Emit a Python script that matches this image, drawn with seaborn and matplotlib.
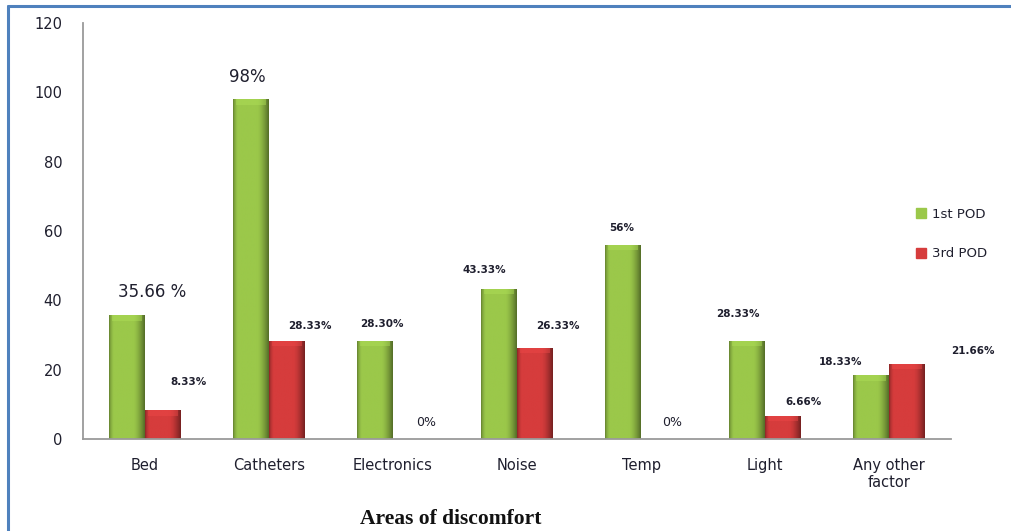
import matplotlib
matplotlib.use("Agg")
import matplotlib.pyplot as plt
from matplotlib.lines import Line2D
from matplotlib.colors import to_rgb
import numpy as np
import pandas as pd
import seaborn as sns

# Data
categories = ["Bed", "Catheters", "Electronics", "Noise", "Temp", "Light", "Any other\nfactor"]
pod1_values = [35.66, 98, 28.30, 43.33, 56, 28.33, 18.33]
pod3_values = [8.33, 28.33, 0, 26.33, 0, 6.66, 21.66]
pod1_labels = ["35.66 %", "98%", "28.30%", "43.33%", "56%", "28.33%", "18.33%"]
pod3_labels = ["8.33%", "28.33%", "0%", "26.33%", "0%", "6.66%", "21.66%"]
series_names = ["1st POD", "3rd POD"]
y_ticks = [0, 20, 40, 60, 80, 100, 120]

df = pd.DataFrame({
    "Area": categories * 2,
    "Value": pod1_values + pod3_values,
    "Series": [series_names[0]] * len(categories) + [series_names[1]] * len(categories),
})

GREEN = "#9BC84A"
RED = "#D63C3C"
TEXT = "#1f1f2e"
AXIS = "#9a9a9a"

sns.set_theme(style="white")
plt.rcParams["font.family"] = ["DejaVu Sans"]

fig = plt.figure(figsize=(10.11, 5.31), dpi=100)
ax = fig.add_axes([83 / 1011, (531 - 439) / 531, (951 - 83) / 1011, (439 - 23) / 531])

sns.barplot(data=df, x="Area", y="Value", hue="Series", order=categories,
            hue_order=series_names, palette=[GREEN, RED], width=0.58,
            saturation=1, edgecolor="none", linewidth=0, legend=False, ax=ax)

ax.set_ylim(0, 120)
ax.set_xlim(-0.5, len(categories) - 0.5)
ax.set_yticks(y_ticks)
ax.set_yticklabels([str(v) for v in y_ticks], fontsize=10.5, color=TEXT)
ax.set_xticks(range(len(categories)))
ax.set_xticklabels(categories, fontsize=10.5, color=TEXT, linespacing=1.1)
ax.set_xticks(np.arange(-0.5, len(categories)), minor=True)
ax.tick_params(axis="x", which="major", length=0, pad=14)
ax.tick_params(axis="x", which="minor", length=5, width=1.2, color=AXIS, direction="out")
ax.tick_params(axis="y", length=5, width=1.2, color=AXIS, direction="out", pad=10)
ax.set_xlabel("")
ax.set_ylabel("")
for side in ["top", "right"]:
    ax.spines[side].set_visible(False)
for side in ["left", "bottom"]:
    ax.spines[side].set_color(AXIS)
    ax.spines[side].set_linewidth(1.3)


def shade(base, n=64, right_dark=0.55, left_dark=0.65):
    """Horizontal cylinder-like shading for a bar."""
    rgb = np.array(to_rgb(base))
    t = np.linspace(0, 1, n)
    f = np.ones(n)
    left = t < 0.12
    f[left] = left_dark + (1 - left_dark) * (t[left] / 0.12) ** 0.6
    right = t > 0.68
    f[right] = 1 - (1 - right_dark) * ((t[right] - 0.68) / 0.32) ** 1.5
    img = np.clip(rgb[None, :] * f[:, None], 0, 1)
    return img[None, :, :]


for container, base in zip(ax.containers, [GREEN, RED]):
    for bar in container:
        h = bar.get_height()
        if h <= 0:
            continue
        x0 = bar.get_x()
        w = bar.get_width()
        im = ax.imshow(shade(base), extent=(x0, x0 + w, 0, h), aspect="auto",
                       interpolation="bilinear", zorder=bar.get_zorder() + 0.1)
        im.set_clip_path(bar)
        # soft bevel along the top edge
        cap = min(1.6, h)
        top = np.clip(np.array(to_rgb(base)) * 1.08 + 0.03, 0, 1)
        ax.fill_between([x0 + w * 0.08, x0 + w * 0.92], h - cap, h,
                        color=top, alpha=0.45, linewidth=0,
                        zorder=bar.get_zorder() + 0.2)
ax.set_xlim(-0.5, len(categories) - 0.5)
ax.set_ylim(0, 120)

# Value labels (offsets in pixels from each bar's top centre)
pod1_offsets = [(25, 23), (-4, 22), (7, 17), (-15, 19), (-1, 17), (-9, 27), (-30, 13)]
pod3_offsets = [(26, 28), (23, 15), (15, 16), (23, 22), (13, 16), (21, 14), (66, 13)]
pod1_sizes = [12, 12, 7.5, 7.5, 7.5, 7.5, 7.5]
pod3_sizes = [7.5, 7.5, 9, 7.5, 9, 7.5, 7.5]
pod1_weight = ["normal", "normal", "bold", "bold", "bold", "bold", "bold"]
pod3_weight = ["bold", "bold", "normal", "bold", "normal", "bold", "bold"]

for container, labels, offs, sizes, weights in [
        (ax.containers[0], pod1_labels, pod1_offsets, pod1_sizes, pod1_weight),
        (ax.containers[1], pod3_labels, pod3_offsets, pod3_sizes, pod3_weight)]:
    for bar, lab, (dx, dy), fs, fw in zip(container, labels, offs, sizes, weights):
        cx = bar.get_x() + bar.get_width() / 2
        ax.annotate(lab, xy=(cx, bar.get_height()), xytext=(dx, dy),
                    textcoords="offset pixels", ha="center", va="center",
                    fontsize=fs, fontweight=fw, color=TEXT, annotation_clip=False)

# Legend
handles = [Line2D([], [], marker="s", linestyle="none", markersize=7,
                  markerfacecolor=c, markeredgecolor=c) for c in [GREEN, RED]]
fig.legend(handles, series_names, loc="center left",
           bbox_to_anchor=(903 / 1011, (531 - 234) / 531), frameon=False,
           fontsize=9.5, labelspacing=2.0, handletextpad=0.3, handlelength=1.0,
           labelcolor=TEXT)

# Axis title at the bottom
fig.text(451 / 1011, 7 / 531, "Areas of discomfort", ha="center", va="baseline",
         fontsize=15.5, fontweight="bold", family=["Liberation Serif", "DejaVu Serif"],
         color="#111111")

# Frame lines at the top and left of the figure
fig.add_artist(Line2D([8 / 1011, 1.0], [1 - 6 / 531, 1 - 6 / 531],
                      transform=fig.transFigure, color="#4F81BD", linewidth=2.2))
fig.add_artist(Line2D([8 / 1011, 8 / 1011], [0, 1 - 6 / 531],
                      transform=fig.transFigure, color="#4F81BD", linewidth=2.2))

fig.savefig("out.png", dpi=100, facecolor="white")
